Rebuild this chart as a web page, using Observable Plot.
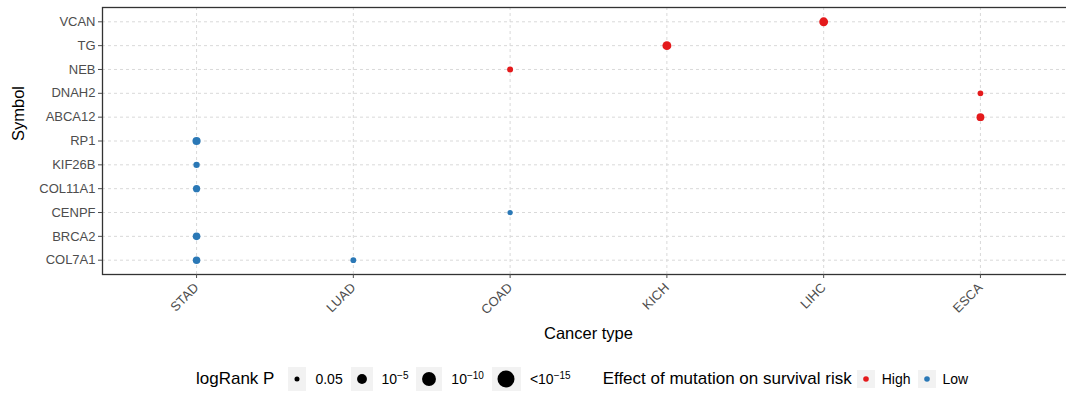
<!DOCTYPE html>
<html>
<head>
<meta charset="utf-8">
<script src="https://cdn.jsdelivr.net/npm/d3@7"></script>
<script src="https://cdn.jsdelivr.net/npm/@observablehq/plot@0.6"></script>
<style>
  body { margin: 0; background: #fff; font-family: "Liberation Sans", Arial, Helvetica, sans-serif; }
  #wrap { position: relative; width: 1066px; height: 393px; overflow: hidden; }
  #legend { position: absolute; top: 367px; left: 196px; height: 24px; display: flex; align-items: center; white-space: nowrap; }
  .ltitle { font-size: 17px; color: #000; }
  .lbox { background: #f2f2f2; display: flex; align-items: center; justify-content: center; flex: none; }
  .llab { font-size: 14px; color: #000; }
  .llab sup { font-size: 10px; vertical-align: 5px; line-height: 0; }
</style>
</head>
<body>
<div id="wrap">
  <div id="chart"></div>
  <div id="legend"></div>
</div>
<script>
// Categories
const cancers = ["STAD", "LUAD", "COAD", "KICH", "LIHC", "ESCA"];
const genes = ["VCAN", "TG", "NEB", "DNAH2", "ABCA12", "RP1", "KIF26B", "COL11A1", "CENPF", "BRCA2", "COL7A1"];

// Points (gene, cancer, -log10 logRank P, effect)
const pointGene   = ["VCAN", "TG",   "NEB",  "DNAH2", "ABCA12", "RP1",  "KIF26B", "COL11A1", "CENPF", "BRCA2", "COL7A1", "COL7A1"];
const pointCancer = ["LIHC", "KICH", "COAD", "ESCA",  "ESCA",   "STAD", "STAD",   "STAD",    "COAD",  "STAD",  "STAD",   "LUAD"];
const pointLogP   = [4.1,    4.1,    1.85,   1.7,     3.2,      3.4,    2.1,      2.7,       1.45,    3.0,     2.9,      1.7];
const pointEffect = ["High", "High", "High", "High",  "High",   "Low",  "Low",    "Low",     "Low",   "Low",   "Low",    "Low"];

// Legend breaks
const sizeBreaks = [0.05, 1e-5, 1e-10, 1e-15];
const sizeLabels = ["0.05", "10<sup>\u22125</sup>", "10<sup>\u221210</sup>", "&lt;10<sup>\u221215</sup>"];
const effectLevels = ["High", "Low"];
const effectColors = ["#e41a1c", "#2a78b6"];

const data = pointGene.map((g, i) => ({gene: g, cancer: pointCancer[i], logp: pointLogP[i], effect: pointEffect[i]}));

const W = 1066, H = 345;
const chart = Plot.plot({
  width: W,
  height: H,
  marginLeft: 102,
  marginRight: -8,
  marginTop: 7,
  marginBottom: H - 274,
  style: { fontFamily: '"Liberation Sans", Arial, Helvetica, sans-serif', background: "#fff" },
  x: { type: "point", domain: cancers, padding: 0.6, round: false, label: null },
  y: { type: "point", domain: genes, padding: 0.6, round: false, label: null },
  r: { type: "sqrt", domain: [0, 15], range: [0, 8.5] },
  color: { domain: effectLevels, range: effectColors },
  marks: [
    Plot.gridX({ stroke: "#d9d9d9", strokeOpacity: 1, strokeDasharray: "3,3", strokeWidth: 1 }),
    Plot.gridY({ stroke: "#d9d9d9", strokeOpacity: 1, strokeDasharray: "3,3", strokeWidth: 1 }),
    Plot.frame({ stroke: "#333", strokeWidth: 1.3 }),
    Plot.dot(data, { x: "cancer", y: "gene", r: "logp", fill: "effect", stroke: "none" }),
    Plot.axisY({ tickSize: 4, tickPadding: 3, fontSize: 13, color: "#4d4d4d", label: null }),
    Plot.axisX({ tickSize: 4, tickPadding: 7, tickRotate: -45, fontSize: 13, color: "#4d4d4d", label: null }),
    Plot.text(["Symbol"], { frameAnchor: "left", rotate: -90, dx: -84, fontSize: 16.5, fill: "#000" }),
    Plot.text(["Cancer type"], { frameAnchor: "bottom", dy: 64, fontSize: 16.5, fill: "#000" })
  ]
});
document.getElementById("chart").appendChild(chart);

// Legend built from the chart's own scales
const rScale = chart.scale("r");
const cScale = chart.scale("color");
const legend = document.getElementById("legend");
function el(tag, cls, html, style) {
  const e = document.createElement(tag);
  if (cls) e.className = cls;
  if (html != null) e.innerHTML = html;
  if (style) Object.assign(e.style, style);
  return e;
}
function dotSvg(r, fill) {
  const s = 2 * Math.ceil(r) + 2;
  return `<svg width="${s}" height="${s}" style="display:block"><circle cx="${s/2}" cy="${s/2}" r="${r}" fill="${fill}"/></svg>`;
}
legend.appendChild(el("span", "ltitle", "logRank P", { marginRight: "14px" }));
sizeBreaks.forEach((p, i) => {
  const r = rScale.apply(-Math.log10(p));
  const w = Math.max(18, 2 * r + 12);
  legend.appendChild(el("div", "lbox", dotSvg(r, "#000"), { width: w + "px", height: "24px" }));
  legend.appendChild(el("span", "llab", sizeLabels[i], { marginLeft: "9px", marginRight: i < 3 ? "8px" : "32px" }));
});
legend.appendChild(el("span", "ltitle", "Effect of mutation on survival risk", { marginRight: "5px" }));
effectLevels.forEach((lv, i) => {
  legend.appendChild(el("div", "lbox", dotSvg(2.8, cScale.apply(lv)), { width: "18px", height: "18px" }));
  legend.appendChild(el("span", "llab", lv, { marginLeft: "7px", marginRight: "7px" }));
});
</script>
</body>
</html>
